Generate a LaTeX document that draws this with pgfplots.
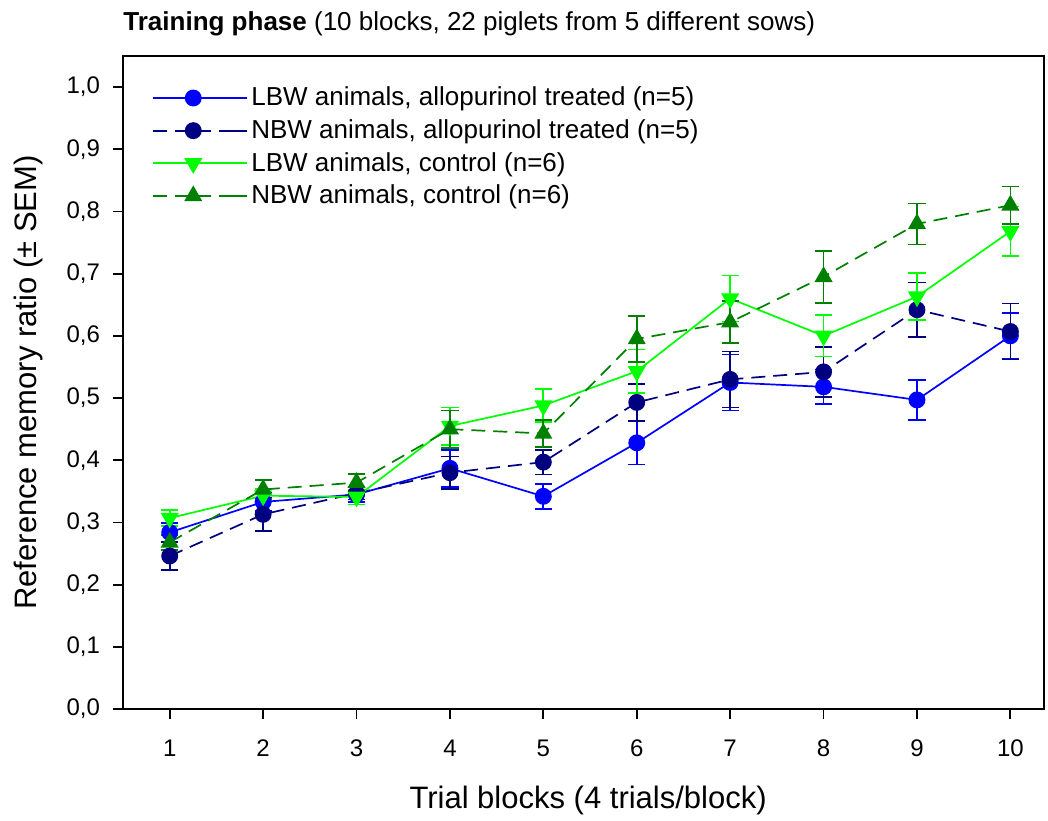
\documentclass[border=0pt]{standalone}
\usepackage{pgfplots}
\pgfplotsset{compat=1.18}
\usepackage{pgfplotstable}
\usepackage{fontspec}
\setmainfont{Liberation Sans}

\definecolor{cBlue}{RGB}{0,0,255}
\definecolor{cNavy}{RGB}{0,0,128}
\definecolor{cLime}{RGB}{0,255,0}
\definecolor{cGreen}{RGB}{0,128,0}

% block, mean ratio, SEM
\pgfplotstableread{
x y e
1 0.284 0.015
2 0.333 0.015
3 0.345 0.012
4 0.387 0.030
5 0.342 0.020
6 0.428 0.035
7 0.525 0.045
8 0.518 0.028
9 0.497 0.032
10 0.600 0.037
}\lbwallo
\pgfplotstableread{
x y e
1 0.246 0.022
2 0.313 0.027
3 0.347 0.010
4 0.380 0.026
5 0.397 0.020
6 0.493 0.030
7 0.530 0.045
8 0.542 0.040
9 0.642 0.044
10 0.607 0.045
}\nbwallo
\pgfplotstableread{
x y e
1 0.307 0.013
2 0.343 0.011
3 0.341 0.012
4 0.455 0.030
5 0.488 0.027
6 0.543 0.035
7 0.660 0.037
8 0.600 0.033
9 0.663 0.038
10 0.768 0.040
}\lbwctrl
\pgfplotstableread{
x y e
1 0.268 0.012
2 0.353 0.015
3 0.364 0.014
4 0.450 0.030
5 0.443 0.022
6 0.595 0.037
7 0.622 0.034
8 0.695 0.042
9 0.780 0.033
10 0.810 0.030
}\nbwctrl

\pgfplotsset{
  series/.style={
    color=#1, line width=0.85pt,
    error bars/y dir=both, error bars/y explicit,
    error bars/error bar style={solid, line width=0.85pt, color=#1},
    error bars/error mark options={rotate=90, mark size=4.3pt, line width=0.85pt, color=#1, solid},
  },
  dashstyle/.style={dash pattern=on 7pt off 4pt},
}

\begin{document}
\begin{tikzpicture}
\useasboundingbox (-61.5pt,-55.5pt) rectangle (462.5pt,354.5pt);
\begin{axis}[
  at={(0,0)}, anchor=south west,
  width=460.5pt, height=326.5pt, scale only axis,
  xmin=0.5, xmax=10.36, ymin=0, ymax=1.05,
  xtick={1,2,3,4,5,6,7,8,9,10},
  ytick={0,0.1,0.2,0.3,0.4,0.5,0.6,0.7,0.8,0.9,1.0},
  tick align=outside, tick pos=left,
  major tick length=5pt,
  every tick/.style={black, line width=0.9pt},
  axis line style={line width=0.9pt},
  /pgf/number format/assume math mode=true,
  yticklabel style={xshift=-3pt, /pgf/number format/.cd, fixed, fixed zerofill, precision=1, use comma},
  xticklabel style={yshift=-7pt},
  tick label style={font=\fontsize{12}{14}\selectfont},
  xlabel={Trial blocks (4 trials/block)},
  ylabel={Reference memory ratio (± SEM)},
  label style={font=\fontsize{15.5}{18}\selectfont},
  xlabel style={at={([yshift=-45.5pt]rel axis cs:0.505,0)}, anchor=center},
  ylabel style={at={([xshift=-47.5pt]rel axis cs:0,0.5)}, anchor=center},
  legend style={at={(rel axis cs:0.025,0.964)}, anchor=north west, draw=none, fill=none,
    font=\fontsize{13}{15}\selectfont, row sep=2.2pt,
    nodes={inner sep=1.6pt}},
  legend cell align=left,
  legend image code/.code={%
    \draw[mark repeat=2, mark phase=2] plot coordinates {(0pt,0pt) (20pt,0pt) (40pt,0pt)};
    \path (40pt,0pt) -- (47pt,0pt);},
]
\addplot[series=cBlue, mark=*, mark size=3.8pt, mark options={solid, fill=cBlue, draw=cBlue}]
  table[x=x, y=y, y error=e] {\lbwallo};
\addlegendentry{LBW animals, allopurinol treated (n=5)}
\addplot[series=cNavy, dashstyle, mark=*, mark size=3.8pt, mark options={solid, fill=cNavy, draw=cNavy}]
  table[x=x, y=y, y error=e] {\nbwallo};
\addlegendentry{NBW animals, allopurinol treated (n=5)}
\addplot[series=cLime, mark=triangle*, mark size=4.4pt, mark options={solid, fill=cLime, draw=cLime, rotate=180}]
  table[x=x, y=y, y error=e] {\lbwctrl};
\addlegendentry{LBW animals, control (n=6)}
\addplot[series=cGreen, dashstyle, mark=triangle*, mark size=4.4pt, mark options={solid, fill=cGreen, draw=cGreen}]
  table[x=x, y=y, y error=e] {\nbwctrl};
\addlegendentry{NBW animals, control (n=6)}
\end{axis}
\node[anchor=base west, inner sep=0pt, font=\fontsize{13}{15}\selectfont]
  at (0pt,339pt) {\textbf{Training phase} (10 blocks, 22 piglets from 5 different sows)};
\end{tikzpicture}
\end{document}
